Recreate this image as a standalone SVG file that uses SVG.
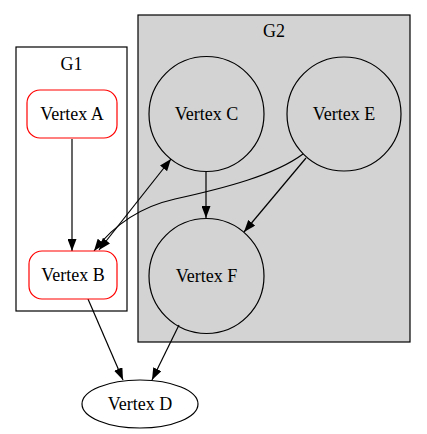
<svg xmlns="http://www.w3.org/2000/svg" width="427" height="434" viewBox="0 0 427 434">
<defs>
<style>
text{font-family:"Liberation Serif","Times New Roman",serif;font-size:18px;text-anchor:middle;fill:#000}
.cl{stroke:#000;stroke-width:1.2}
.rn{fill:#fff;stroke:#ff0000;stroke-width:1.2}
.cn{fill:none;stroke:#000;stroke-width:1.2}
.e{fill:none;stroke:#000;stroke-width:1.2}
</style>
<marker id="ah" viewBox="0 0 12 9" refX="12" refY="4.5" markerWidth="12" markerHeight="9" markerUnits="userSpaceOnUse" orient="auto-start-reverse">
<path d="M0,0 L12,4.5 L0,9 Z" fill="#000"/>
</marker>
</defs>
<rect width="427" height="434" fill="#fff"/>
<g id="G1">
<rect class="cl" x="16" y="47" width="111" height="264" fill="#fff"/>
<text x="71.5" y="70">G1</text>
</g>
<g id="G2">
<rect class="cl" x="138" y="15" width="272" height="327" fill="#d3d3d3"/>
<text x="274" y="37">G2</text>
</g>
<g id="connectors">
<path class="e" d="M72,139 L72,251" marker-end="url(#ah)"/>
<path class="e" d="M206,172 L206,218" marker-end="url(#ah)"/>
<path class="e" d="M306,158 L244,232" marker-end="url(#ah)"/>
<path class="e" d="M303,154 C275,175 225,188 175,199 C135,208 110,230 94,251" marker-end="url(#ah)"/>
<path class="e" d="M99,250 L171,159" marker-start="url(#ah)" marker-end="url(#ah)"/>
<path class="e" d="M88,299 L123,380" marker-end="url(#ah)"/>
<path class="e" d="M179,325 L152,380" marker-end="url(#ah)"/>
</g>
<g id="vertexA">
<rect class="rn" x="27" y="90" width="90" height="48" rx="13"/>
<text x="72" y="120">Vertex A</text>
</g>
<g id="vertexB">
<rect class="rn" x="29" y="251" width="88" height="48" rx="13"/>
<text x="73" y="281">Vertex B</text>
</g>
<g id="vertexC">
<circle class="cn" cx="206.5" cy="114" r="57.5"/>
<text x="206.5" y="120">Vertex C</text>
</g>
<g id="vertexE">
<circle class="cn" cx="344" cy="114" r="57"/>
<text x="344" y="120">Vertex E</text>
</g>
<g id="vertexF">
<circle class="cn" cx="206.5" cy="276" r="57.5"/>
<text x="206.5" y="282">Vertex F</text>
</g>
<g id="vertexD">
<ellipse class="cn" cx="140" cy="404" rx="58" ry="24" fill="#fff"/>
<text x="140" y="410">Vertex D</text>
</g>
</svg>
